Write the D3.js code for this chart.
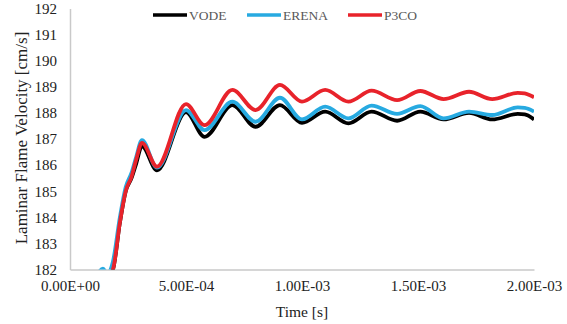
<!DOCTYPE html>
<html>
<head>
<meta charset="utf-8">
<script src="https://cdn.jsdelivr.net/npm/d3@7"></script>
<style>
  body { margin: 0; background: #fff; }
  text { font-family: "Liberation Serif", "Times New Roman", serif; }
</style>
</head>
<body>
<svg id="chart" width="567" height="324"></svg>
<script>
// time in seconds
var times = [0, 1.0e-4, 1.42e-4, 1.6e-4, 1.85e-4, 2.15e-4, 2.4e-4, 2.65e-4, 2.85e-4, 3.1e-4,
  3.75e-4, 5.0e-4, 5.8e-4, 7.0e-4, 8.0e-4, 9.05e-4, 1.0e-3, 1.1e-3, 1.2e-3, 1.3e-3,
  1.41e-3, 1.51e-3, 1.61e-3, 1.72e-3, 1.82e-3, 1.93e-3, 1.96e-3, 2.0e-3];

var vode = [181.0, 181.5, 181.8, 181.7, 182.0, 183.8, 185.0, 185.5, 186.05, 186.73,
  185.8, 188.03, 187.08, 188.30, 187.47, 188.30, 187.62, 188.05, 187.60, 188.05,
  187.70, 188.05, 187.75, 188.00, 187.75, 187.96, 187.94, 187.75];

var erena = [181.0, 181.6, 182.03, 181.85, 182.3, 184.0, 185.15, 185.7, 186.3, 186.96,
  185.9, 188.11, 187.34, 188.43, 187.66, 188.58, 187.75, 188.24, 187.79, 188.28,
  187.96, 188.26, 187.79, 188.05, 187.92, 188.21, 188.19, 188.05];

var p3co = [181.0, 181.5, 181.8, 181.7, 182.0, 183.8, 185.0, 185.55, 186.2, 186.85,
  185.94, 188.34, 187.53, 188.88, 188.11, 189.07, 188.43, 188.88, 188.43, 188.85,
  188.49, 188.84, 188.53, 188.81, 188.53, 188.77, 188.75, 188.60];

var seriesNames = ["VODE", "ERENA", "P3CO"];
var seriesColors = ["#000000", "#27aae1", "#e8232b"];
var seriesValues = [vode, erena, p3co];

var yTicks = [182, 183, 184, 185, 186, 187, 188, 189, 190, 191, 192];
var xTicks = [0, 5e-4, 1e-3, 1.5e-3, 2e-3];
var xTickLabels = ["0.00E+00", "5.00E-04", "1.00E-03", "1.50E-03", "2.00E-03"];

var svg = d3.select("#chart");
var m = {left: 70, right: 534, top: 8.5, bottom: 269.5};

var x = d3.scaleLinear().domain([0, 2e-3]).range([m.left, m.right]);
var y = d3.scaleLinear().domain([182, 192]).range([m.bottom, m.top]);

svg.append("defs").append("clipPath").attr("id", "plotclip")
  .append("rect")
  .attr("x", m.left).attr("y", m.top)
  .attr("width", m.right - m.left).attr("height", m.bottom - m.top);

// axes
var yAxis = svg.append("g")
  .attr("transform", "translate(" + m.left + ",0)")
  .call(d3.axisLeft(y).tickValues(yTicks).tickSize(0).tickPadding(13).tickFormat(d3.format("d")));
var xAxis = svg.append("g")
  .attr("transform", "translate(0," + m.bottom + ")")
  .call(d3.axisBottom(x).tickValues(xTicks).tickSize(0).tickPadding(11)
    .tickFormat(function(d, i) { return xTickLabels[i]; }));

[yAxis, xAxis].forEach(function(a) {
  a.select(".domain").attr("stroke", "#c9c9c9").attr("stroke-width", 1.5);
  a.selectAll("text").attr("fill", "#222").style("font-size", "15px")
    .style("font-family", "'Liberation Serif', serif");
});

// lines
var line = d3.line()
  .x(function(d) { return x(d[0]); })
  .y(function(d) { return y(d[1]); })
  .curve(d3.curveMonotoneX);

var plot = svg.append("g").attr("clip-path", "url(#plotclip)");
seriesValues.forEach(function(vals, i) {
  plot.append("path")
    .datum(times.map(function(t, j) { return [t, vals[j]]; }))
    .attr("fill", "none")
    .attr("stroke", seriesColors[i])
    .attr("stroke-width", 3.8)
    .attr("stroke-linejoin", "round")
    .attr("d", line);
});

// axis titles
svg.append("text")
  .attr("x", (m.left + m.right) / 2).attr("y", 317)
  .attr("text-anchor", "middle")
  .style("font-size", "15.5px").attr("fill", "#222")
  .text("Time [s]");

svg.append("text")
  .attr("transform", "translate(27," + 138 + ") rotate(-90)")
  .attr("text-anchor", "middle")
  .style("font-size", "17px").attr("fill", "#222")
  .text("Laminar Flame Velocity [cm/s]");

// legend
var legendX = [153, 247, 348];
var legend = svg.append("g");
seriesNames.forEach(function(name, i) {
  legend.append("line")
    .attr("x1", legendX[i]).attr("x2", legendX[i] + 34)
    .attr("y1", 15).attr("y2", 15)
    .attr("stroke", seriesColors[i]).attr("stroke-width", 3.5);
  legend.append("text")
    .attr("x", legendX[i] + 36).attr("y", 20)
    .style("font-size", "13.5px").attr("fill", "#595959")
    .text(name);
});
</script>
</body>
</html>
